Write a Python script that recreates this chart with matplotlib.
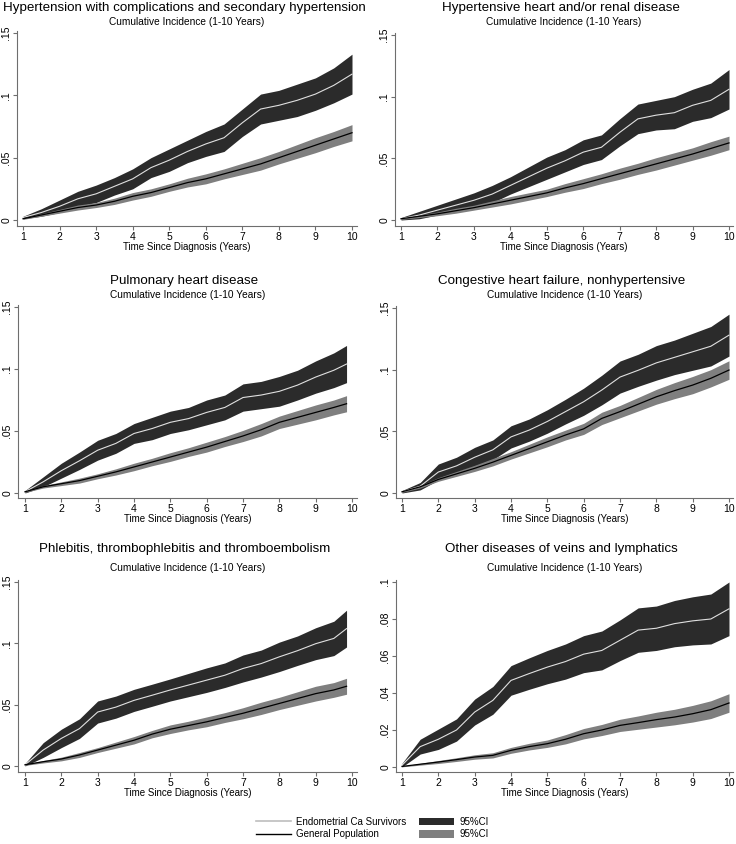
import matplotlib
matplotlib.use("Agg")
import matplotlib.pyplot as plt
from matplotlib.lines import Line2D
from matplotlib.patches import Patch
import numpy as np

plt.rcParams['font.family'] = ['Liberation Sans', 'DejaVu Sans']

# ---------------- data ----------------
years = [1.0, 1.5, 2.0, 2.5, 3.0, 3.5, 4.0, 4.5, 5.0, 5.5,
         6.0, 6.5, 7.0, 7.5, 8.0, 8.5, 9.0, 9.5, 10.0]
years_short = [1.0, 1.5, 2.0, 2.5, 3.0, 3.5, 4.0, 4.5, 5.0, 5.5,
               6.0, 6.5, 7.0, 7.5, 8.0, 8.5, 9.0, 9.5, 9.85]

titles = ["Hypertension with complications and secondary hypertension",
          "Hypertensive heart and/or renal disease",
          "Pulmonary heart disease",
          "Congestive heart failure, nonhypertensive",
          "Phlebitis, thrombophlebitis and thromboembolism",
          "Other diseases of veins and lymphatics"]
subtitle = "Cumulative Incidence (1-10 Years)"
xlabel = "Time Since Diagnosis (Years)"
legend_labels = ["Endometrial Ca Survivors", "General Population", "95%CI", "95%CI"]

x_ticks = [1, 2, 3, 4, 5, 6, 7, 8, 9, 10]
y_ticks_a = [0, 0.05, 0.10, 0.15]
y_labels_a = ["0", ".05", ".1", ".15"]
y_ticks_b = [0, 0.02, 0.04, 0.06, 0.08, 0.10]
y_labels_b = ["0", ".02", ".04", ".06", ".08", ".1"]

# Panel 1: Hypertension with complications
p1_surv = [0.002, 0.006, 0.011, 0.017, 0.021, 0.027, 0.033, 0.042, 0.048, 0.055,
           0.061, 0.066, 0.078, 0.089, 0.092, 0.096, 0.101, 0.108, 0.117]
p1_surv_ci = [0.001, 0.003, 0.005, 0.006, 0.007, 0.007, 0.008, 0.008, 0.009, 0.009,
              0.010, 0.011, 0.011, 0.012, 0.012, 0.013, 0.013, 0.014, 0.016]
p1_gen = [0.001, 0.004, 0.007, 0.010, 0.012, 0.015, 0.019, 0.022, 0.026, 0.030,
          0.033, 0.037, 0.041, 0.045, 0.050, 0.055, 0.060, 0.065, 0.070]
p1_gen_ci = [0.0005, 0.001, 0.0015, 0.002, 0.002, 0.0025, 0.003, 0.003, 0.003, 0.0035,
             0.004, 0.004, 0.0045, 0.005, 0.005, 0.0055, 0.006, 0.006, 0.0065]

# Panel 2: Hypertensive heart and/or renal disease
p2_surv = [0.001, 0.004, 0.008, 0.012, 0.016, 0.021, 0.028, 0.035, 0.042, 0.048,
           0.055, 0.059, 0.071, 0.082, 0.085, 0.087, 0.093, 0.097, 0.106]
p2_surv_ci = [0.001, 0.003, 0.004, 0.005, 0.006, 0.007, 0.007, 0.008, 0.009, 0.009,
              0.010, 0.010, 0.011, 0.012, 0.012, 0.013, 0.013, 0.014, 0.016]
p2_gen = [0.001, 0.003, 0.005, 0.0075, 0.010, 0.013, 0.016, 0.019, 0.022, 0.026,
          0.0295, 0.0335, 0.0375, 0.0415, 0.0455, 0.0495, 0.0535, 0.058, 0.0625]
p2_gen_ci = [0.0005, 0.001, 0.0015, 0.002, 0.002, 0.0025, 0.003, 0.003, 0.003, 0.0035,
             0.004, 0.004, 0.0045, 0.0045, 0.005, 0.005, 0.005, 0.0055, 0.0055]

# Panel 3: Pulmonary heart disease
p3_surv = [0.001, 0.009, 0.018, 0.026, 0.0345, 0.040, 0.048, 0.052, 0.057, 0.060,
           0.065, 0.069, 0.077, 0.079, 0.082, 0.087, 0.0935, 0.099, 0.104]
p3_surv_ci = [0.001, 0.004, 0.006, 0.007, 0.008, 0.008, 0.008, 0.009, 0.009, 0.009,
              0.010, 0.010, 0.011, 0.011, 0.012, 0.012, 0.013, 0.014, 0.015]
p3_gen = [0.001, 0.005, 0.0075, 0.010, 0.0135, 0.017, 0.021, 0.025, 0.029, 0.033,
          0.037, 0.0415, 0.046, 0.051, 0.057, 0.061, 0.065, 0.069, 0.072]
p3_gen_ci = [0.0005, 0.001, 0.0015, 0.002, 0.002, 0.0025, 0.003, 0.003, 0.0035, 0.0035,
             0.004, 0.004, 0.0045, 0.005, 0.005, 0.0055, 0.006, 0.006, 0.0065]

# Panel 4: Congestive heart failure, nonhypertensive
p4_surv = [0.001, 0.0055, 0.017, 0.022, 0.029, 0.035, 0.0455, 0.051, 0.058, 0.066,
           0.074, 0.0835, 0.094, 0.0995, 0.1055, 0.110, 0.1145, 0.119, 0.128]
p4_surv_ci = [0.001, 0.003, 0.0065, 0.007, 0.008, 0.008, 0.009, 0.009, 0.0095, 0.010,
              0.011, 0.012, 0.013, 0.013, 0.014, 0.014, 0.015, 0.016, 0.017]
p4_gen = [0.001, 0.005, 0.011, 0.0155, 0.020, 0.025, 0.0305, 0.036, 0.0415, 0.047,
          0.052, 0.0605, 0.066, 0.072, 0.078, 0.083, 0.0875, 0.093, 0.0997]
p4_gen_ci = [0.0005, 0.001, 0.0015, 0.002, 0.0025, 0.003, 0.003, 0.0035, 0.004, 0.004,
             0.0045, 0.005, 0.005, 0.0055, 0.006, 0.0065, 0.007, 0.007, 0.0075]

# Panel 5: Phlebitis, thrombophlebitis and thromboembolism
p5_surv = [0.001, 0.013, 0.0225, 0.0305, 0.044, 0.048, 0.0535, 0.0577, 0.062, 0.066,
           0.070, 0.074, 0.0795, 0.0835, 0.089, 0.094, 0.0997, 0.104, 0.112]
p5_surv_ci = [0.001, 0.006, 0.0075, 0.008, 0.009, 0.009, 0.009, 0.009, 0.009, 0.0095,
              0.010, 0.010, 0.011, 0.011, 0.012, 0.012, 0.013, 0.014, 0.015]
p5_gen = [0.001, 0.0035, 0.0057, 0.009, 0.013, 0.017, 0.021, 0.026, 0.030, 0.033,
          0.036, 0.0395, 0.043, 0.047, 0.051, 0.055, 0.059, 0.062, 0.065]
p5_gen_ci = [0.0005, 0.001, 0.0015, 0.002, 0.002, 0.0025, 0.003, 0.003, 0.0035, 0.0035,
             0.004, 0.004, 0.0045, 0.005, 0.005, 0.0055, 0.006, 0.006, 0.0065]

# Panel 6: Other diseases of veins and lymphatics
p6_surv = [0.001, 0.011, 0.015, 0.020, 0.0297, 0.036, 0.0468, 0.0505, 0.054, 0.057,
           0.061, 0.063, 0.0685, 0.074, 0.075, 0.0775, 0.079, 0.080, 0.0855]
p6_surv_ci = [0.001, 0.004, 0.0055, 0.006, 0.007, 0.0075, 0.008, 0.0085, 0.009, 0.0095,
              0.010, 0.0105, 0.011, 0.012, 0.012, 0.0125, 0.013, 0.0135, 0.0145]
p6_gen = [0.0003, 0.0015, 0.0027, 0.004, 0.0054, 0.0063, 0.009, 0.011, 0.0126, 0.015,
          0.018, 0.020, 0.0225, 0.024, 0.0256, 0.027, 0.0288, 0.031, 0.0346]
p6_gen_ci = [0.0002, 0.0005, 0.0008, 0.001, 0.0012, 0.0014, 0.0016, 0.0018, 0.002, 0.0025,
             0.0028, 0.003, 0.0033, 0.0036, 0.004, 0.0042, 0.0045, 0.0048, 0.005]

panels = [
    (years, p1_surv, p1_surv_ci, p1_gen, p1_gen_ci, y_ticks_a, y_labels_a),
    (years, p2_surv, p2_surv_ci, p2_gen, p2_gen_ci, y_ticks_a, y_labels_a),
    (years_short, p3_surv, p3_surv_ci, p3_gen, p3_gen_ci, y_ticks_a, y_labels_a),
    (years, p4_surv, p4_surv_ci, p4_gen, p4_gen_ci, y_ticks_a, y_labels_a),
    (years_short, p5_surv, p5_surv_ci, p5_gen, p5_gen_ci, y_ticks_a, y_labels_a),
    (years, p6_surv, p6_surv_ci, p6_gen, p6_gen_ci, y_ticks_b, y_labels_b),
]

# ---------------- layout (pixels) ----------------
W, H = 736, 844
# x1px, x10px, y0px, ytop_px, ytop_val, left, right, top, bottom, title_y, sub_y, xlab_y
layout = [
    (23, 352, 220, 33, 0.15, 17, 357, 31, 226, 8, 22, 247),
    (401, 729, 220, 35, 0.15, 395, 733, 33, 226, 8, 22, 247),
    (25, 352, 493, 307, 0.15, 18, 357, 305, 498, 281, 295, 519),
    (402, 729, 493, 308, 0.15, 396, 733, 306, 498, 281, 295, 519),
    (25, 352, 766, 582, 0.15, 18, 357, 580, 772, 549, 568, 793),
    (402, 729, 767, 582, 0.10, 396, 733, 580, 772, 549, 568, 793),
]

DARK = '#2b2b2b'
GRAY = '#7f7f7f'
WHITE_LINE = '#e0e0e0'
AXIS = '#6e6e6e'

fig = plt.figure(figsize=(W / 100, H / 100), dpi=100)
fig.patch.set_facecolor('white')

for (xs, surv, surv_ci, gen, gen_ci, yt, yl), lay, title in zip(panels, layout, titles):
    x1, x10, y0, ytp, ytv, left, right, top, bottom, ty, sy, xy = lay
    ax = fig.add_axes([left / W, 1 - bottom / H, (right - left) / W, (bottom - top) / H])
    sxp = (x10 - x1) / 9.0
    ax.set_xlim(1 + (left - x1) / sxp, 10 + (right - x10) / sxp)
    syp = (y0 - ytp) / ytv
    ax.set_ylim(-(bottom - y0) / syp, ytv + (ytp - top) / syp)

    xs = np.array(xs)
    s = np.array(surv); sc = np.array(surv_ci)
    g = np.array(gen); gc = np.array(gen_ci)
    ax.fill_between(xs, s - sc, s + sc, color=DARK, lw=0, zorder=1)
    ax.fill_between(xs, g - gc, g + gc, color=GRAY, lw=0, zorder=2)
    ax.plot(xs, s, color=WHITE_LINE, lw=0.8, zorder=3)
    ax.plot(xs, g, color='black', lw=0.9, zorder=4)

    for sp in ['top', 'right']:
        ax.spines[sp].set_visible(False)
    for sp in ['left', 'bottom']:
        ax.spines[sp].set_color(AXIS)
        ax.spines[sp].set_linewidth(0.8)
    ax.set_xticks(x_ticks)
    ax.set_xticklabels([str(v) for v in x_ticks])
    ax.set_yticks(yt)
    ax.set_yticklabels(yl, rotation=90, va='center')
    ax.tick_params(axis='both', direction='out', length=3, width=0.8, color=AXIS,
                   labelsize=7.5, pad=1.0)

    cx = (left + right) / 2 / W
    fig.text(cx - 3 / W, 1 - ty / H, title, ha='center', va='center', fontsize=9.6)
    fig.text(cx, 1 - sy / H, subtitle, ha='center', va='center', fontsize=7.3)
    fig.text(cx, 1 - xy / H, xlabel, ha='center', va='center', fontsize=7)

handles = [Line2D([], [], color='#bdbdbd', lw=1.2),
           Line2D([], [], color='black', lw=1.0),
           Patch(facecolor=DARK, edgecolor='none'),
           Patch(facecolor=GRAY, edgecolor='none')]
fig.legend(handles, legend_labels, ncol=2, loc='center', bbox_to_anchor=(372 / W, 1 - 828 / H),
           frameon=False, fontsize=7, handlelength=3.6, handleheight=0.85,
           handletextpad=0.55, columnspacing=1.3, labelspacing=0.25)

fig.savefig('out.png', dpi=100, facecolor='white')
